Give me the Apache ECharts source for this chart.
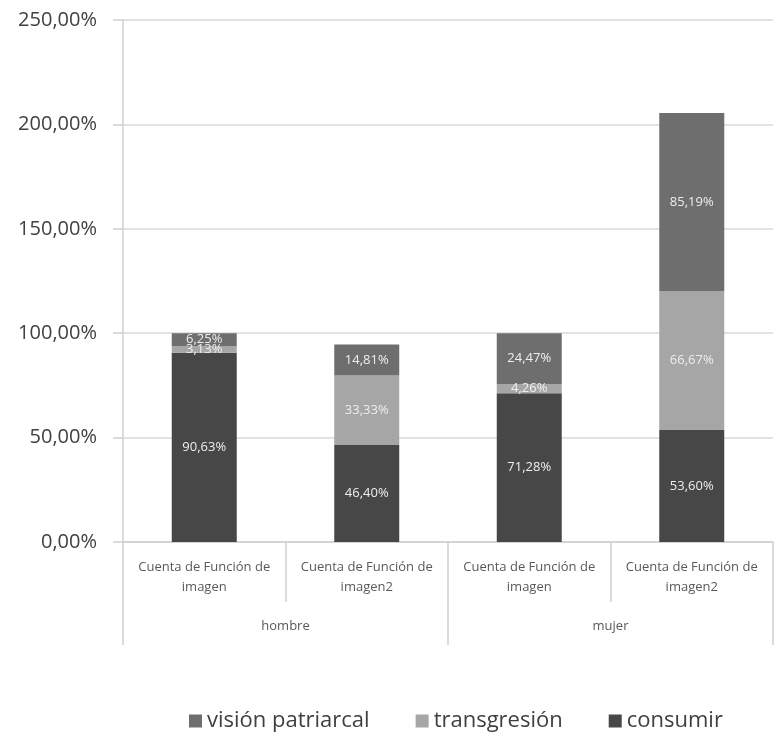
<!DOCTYPE html>
<html>
<head>
<meta charset="utf-8">
<script src="https://cdn.jsdelivr.net/npm/echarts@6/dist/echarts.min.js"></script>
<style>
  html, body { margin: 0; padding: 0; background: #ffffff; }
  #chart { width: 774px; height: 733px; }
</style>
</head>
<body>
<div id="chart"></div>
<script>
// Inner categories (one bar each) and the outer grouping underneath them
const categories = [
  'Cuenta de Función de\nimagen',
  'Cuenta de Función de\nimagen2',
  'Cuenta de Función de\nimagen',
  'Cuenta de Función de\nimagen2'
];
const groups = ['hombre', 'mujer'];

// Stacked percentages per bar
const consumir = [90.63, 46.40, 71.28, 53.60];
const transgresion = [3.13, 33.33, 4.26, 66.67];
const visionPatriarcal = [6.25, 14.81, 24.47, 85.19];

const yTicks = { min: 0, max: 250, interval: 50 };

const FONT = '"Open Sans", "DejaVu Sans", sans-serif';
const fmt = v => v.toFixed(2).replace('.', ',') + '%';

const barLabel = {
  show: true,
  position: 'inside',
  color: '#eeeeee',
  fontFamily: FONT,
  fontSize: 13,
  formatter: p => fmt(p.value)
};

const chart = echarts.init(document.getElementById('chart'), null, { renderer: 'canvas' });

chart.setOption({
  animation: false,
  backgroundColor: '#ffffff',
  grid: { left: 123, right: 1, top: 20, bottom: 191, containLabel: false },
  legend: {
    left: 184,
    top: 705,
    itemWidth: 13,
    itemHeight: 13,
    itemGap: 46,
    icon: 'rect',
    textStyle: { fontFamily: FONT, fontSize: 22, color: '#404040' },
    data: ['visión patriarcal', 'transgresión', 'consumir']
  },
  xAxis: [
    {
      type: 'category',
      data: categories,
      position: 'bottom',
      axisLine: { show: true, lineStyle: { color: '#d0d0d0', width: 1.5 } },
      axisTick: { show: true, length: 60, interval: 0, alignWithLabel: false, lineStyle: { color: '#d0d0d0', width: 1.5 } },
      axisLabel: { interval: 0, margin: 15, color: '#595959', fontFamily: FONT, fontSize: 13, lineHeight: 20 },
      splitLine: { show: false }
    },
    {
      type: 'category',
      data: groups,
      position: 'bottom',
      axisLine: { show: false },
      axisTick: { show: true, length: 103, interval: 0, alignWithLabel: false, lineStyle: { color: '#d0d0d0', width: 1.5 } },
      axisLabel: { interval: 0, margin: 78, color: '#595959', fontFamily: FONT, fontSize: 13 },
      splitLine: { show: false }
    }
  ],
  yAxis: {
    type: 'value',
    min: yTicks.min,
    max: yTicks.max,
    interval: yTicks.interval,
    axisLine: { show: true, lineStyle: { color: '#d0d0d0', width: 1.5 } },
    axisTick: { show: true, length: 10, lineStyle: { color: '#d0d0d0', width: 1.5 } },
    axisLabel: { margin: 26, color: '#404040', fontFamily: FONT, fontSize: 20, formatter: v => fmt(v) },
    splitLine: { show: true, lineStyle: { color: '#d9d9d9', width: 1.5 } }
  },
  series: [
    {
      name: 'consumir', type: 'bar', stack: 'total', xAxisIndex: 0,
      barWidth: '40%', data: consumir,
      itemStyle: { color: '#474747' }, label: barLabel
    },
    {
      name: 'transgresión', type: 'bar', stack: 'total', xAxisIndex: 0,
      barWidth: '40%', data: transgresion,
      itemStyle: { color: '#a6a6a6' }, label: barLabel
    },
    {
      name: 'visión patriarcal', type: 'bar', stack: 'total', xAxisIndex: 0,
      barWidth: '40%', data: visionPatriarcal,
      itemStyle: { color: '#6e6e6e' }, label: barLabel
    }
  ]
});
</script>
</body>
</html>
